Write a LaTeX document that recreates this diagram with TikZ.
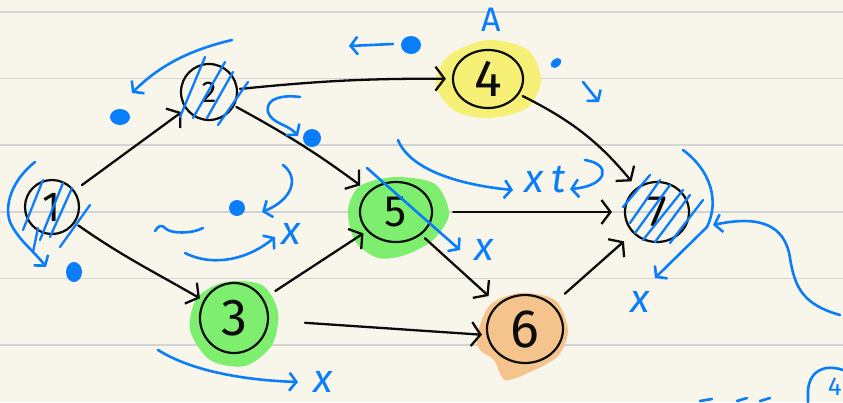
\documentclass[tikz,border=0pt]{standalone}
\usepackage{fontspec}
\setmainfont{Fira Sans}
\usetikzlibrary{arrows.meta,shapes.geometric}
\definecolor{paper}{RGB}{248,246,234}
\definecolor{ruleline}{RGB}{212,212,212}
\definecolor{ink}{RGB}{12,12,12}
\definecolor{pen}{RGB}{10,125,250}
\definecolor{hlyellow}{RGB}{246,240,118}
\definecolor{hlgreen}{RGB}{126,238,110}
\definecolor{hlorange}{RGB}{245,196,140}
\begin{document}
\begin{tikzpicture}[x=1pt,y=-1pt,
  vert/.style={ellipse,draw=ink,line width=2.2pt,inner sep=0pt,text=ink},
  blk/.style={draw=ink,line width=2.3pt,line cap=round,line join=round,-{Straight Barb[length=9pt,width=24pt]}},
  penline/.style={draw=pen,line width=2.6pt,line cap=round,line join=round},
  penarrow/.style={penline,-{Straight Barb[length=7pt,width=18pt]}},
  pentext/.style={text=pen,inner sep=0pt,font=\fontsize{40}{40}\selectfont\itshape}]
\useasboundingbox (0,0) rectangle (843,402);
\fill[paper] (0,0) rectangle (843,402);
\foreach \y in {11.7,78.3,145,211.7,278.3,345}
  \draw[ruleline,line width=1.6pt] (0,\y) -- (843,\y);

% highlights
\fill[hlyellow] plot[smooth cycle] coordinates {(436,85) (448,56) (488,40) (528,50) (541,80) (527,108) (490,118) (455,111)};
\fill[hlgreen] plot[smooth cycle] coordinates {(348,210) (360,186) (395,177) (435,184) (449,214) (433,240) (405,255) (378,258) (355,241)};
\fill[hlgreen] plot[smooth cycle] coordinates {(190,330) (197,298) (225,282) (262,285) (278,312) (272,345) (245,366) (210,360)};
\fill[hlorange] plot[smooth cycle] coordinates {(477,335) (490,305) (520,293) (555,300) (568,330) (558,356) (530,372) (505,380) (494,360) (480,350)};

% vertices
\node[vert,minimum width=54pt,minimum height=54pt,font=\fontsize{42}{42}\selectfont] (n1) at (52,207) {1};
\node[vert,minimum width=56pt,minimum height=56pt,font=\fontsize{30}{30}\selectfont] (n2) at (209,92) {2};
\node[vert,minimum width=68pt,minimum height=70pt,font=\fontsize{52}{52}\selectfont] (n3) at (234,318) {3};
\node[vert,minimum width=70pt,minimum height=58pt,font=\fontsize{52}{52}\selectfont] (n4) at (488,79) {4};
\node[vert,minimum width=72pt,minimum height=60pt,font=\fontsize{44}{44}\selectfont] (n5) at (396,212) {5};
\node[vert,minimum width=76pt,minimum height=68pt,font=\fontsize{54}{54}\selectfont] (n6) at (525,329) {6};
\node[vert,minimum width=64pt,minimum height=60pt,font=\fontsize{44}{44}\selectfont] (n7) at (657,212) {7};

% black edges
\draw[blk,shorten <=9pt,shorten >=5pt] (n1) -- (n2);
\draw[blk,shorten <=4pt,shorten >=4pt] (n1) to[out=-35,in=150] (n3);
\draw[blk,shorten <=2pt,shorten >=6pt] (n2) to[bend left=3] (n4);
\draw[blk,shorten <=2pt,shorten >=10pt] (n2) to[bend left=4] (n5);
\draw[blk,shorten <=14pt,shorten >=4pt] (n3) -- (n5);
\draw[blk,shorten <=36pt,shorten >=4pt] (n3) -- ([yshift=-6pt]n6.west);
\draw[blk,shorten <=4pt,shorten >=8pt] (n4) to[bend left=12] (n7);
\draw[blk,shorten <=20pt,shorten >=12pt] (n5) -- (n7);
\draw[blk,shorten <=5pt,shorten >=12pt] (n5) -- (n6);
\draw[blk,shorten <=16pt,shorten >=12pt] (n6) -- (n7);

% hatching
\foreach \a/\b/\c/\d in {23/230/43/180, 40/240/63/183, 50/237/72/188, 60/247/90/205, 33/252/38/228}
  \draw[penline,line width=2.3pt] (\a,\b) -- (\c,\d);
\foreach \a/\b/\c/\d in {180/117/205/57, 193/118/225/62, 207/118/233/72, 218/125/248/82}
  \draw[penline,line width=2.3pt] (\a,\b) -- (\c,\d);
\foreach \a/\b/\c/\d in {623/207/650/175, 630/223/660/180, 635/233/670/185, 643/240/683/190, 655/242/690/195, 670/243/703/200}
  \draw[penline,line width=2.3pt] (\a,\b) -- (\c,\d);

% dots
\fill[pen] (120,117) ellipse [x radius=10pt, y radius=8pt];
\fill[pen] (312,138) ellipse [x radius=9pt, y radius=9pt];
\fill[pen] (411,45) ellipse [x radius=10pt, y radius=9pt];
\fill[pen] (74,272) ellipse [x radius=8pt, y radius=10pt];
\fill[pen] (237,208) ellipse [x radius=8pt, y radius=8pt];
\fill[pen,rotate around={40:(556,63)}] (556,63) ellipse [x radius=6pt, y radius=4pt];

% blue annotations
\node[pentext,font=\fontsize{34}{34}\selectfont] (lblA) at (491,20) {A};
\draw[penarrow] (393,44) -- (349,46);
\draw[penarrow] (232,40) .. controls (190,50) and (160,65) .. (132,93);
\draw[penarrow] (300,97) .. controls (285,95) and (265,97) .. (268,112) .. controls (272,124) and (288,124) .. (298,136);
\draw[penarrow] (583,82) -- (599,102);
\draw[penarrow] (398,140) .. controls (410,170) and (460,185) .. (513,190);
\node[pentext] (x1) at (534,182) {x};
\node[pentext] (t1) at (559,180) {t};
\draw[penarrow] (585,160) .. controls (612,164) and (608,186) .. (570,189);
\draw[penarrow] (367,168) -- (460,250);
\node[pentext] (x2) at (484,250) {x};
\draw[penarrow] (35,162) .. controls (12,180) and (4,205) .. (10,222) .. controls (18,240) and (35,252) .. (46,267);
\draw[penarrow] (283,165) .. controls (300,178) and (292,200) .. (262,212);
\draw[penline] (155,231) .. controls (158,226) and (162,224) .. (165,228) .. controls (170,234) and (192,234) .. (203,228);
\draw[penarrow] (185,253) .. controls (215,268) and (250,258) .. (275,237);
\node[pentext] (x3) at (291,234) {x};
\draw[penarrow] (158,350) .. controls (190,370) and (240,380) .. (298,382);
\node[pentext] (x4) at (323,382) {x};
\draw[penarrow] (683,150) .. controls (710,170) and (720,200) .. (707,227) -- (655,278);
\node[pentext] (x5) at (640,302) {x};
\draw[penarrow] (840,315) .. controls (805,305) and (795,290) .. (790,258) .. controls (785,225) and (760,215) .. (713,225);
\draw[penline] (700,401) -- (712,399) (737,401) -- (747,398) (760,401) -- (770,398);
\draw[penline] (843,370) .. controls (825,364) and (810,370) .. (808,390) -- (808,402);
\node[pentext,font=\fontsize{26}{26}\selectfont,anchor=east] (four) at (842,387) {4};
\end{tikzpicture}
\end{document}
